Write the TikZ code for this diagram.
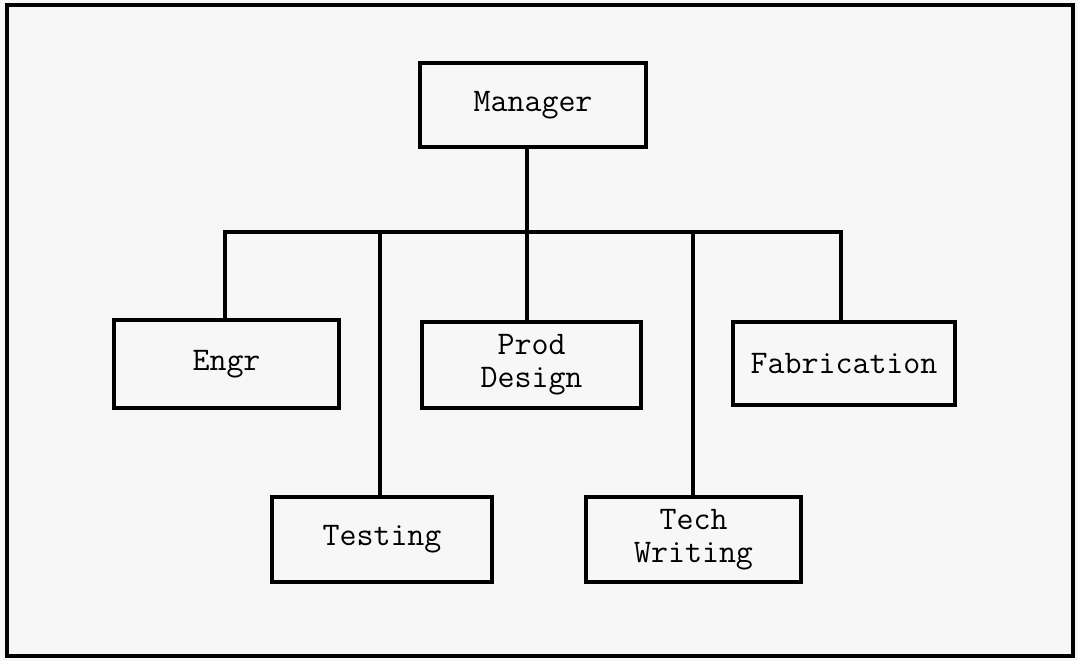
\documentclass[tikz,border=0pt]{standalone}
\usepackage{fontspec}
\begin{document}
\begin{tikzpicture}[x=1pt,y=-1pt,
  box/.style={draw=black,line width=4pt,fill=none,rectangle,inner sep=0pt,
    font=\fontsize{33}{33}\selectfont\ttfamily,align=center},
  conn/.style={draw=black,line width=3.4pt}]
\fill[black!3] (0,0) rectangle (1078,661);
\useasboundingbox (0,0) rectangle (1078,661);
\draw[line width=4pt] (7,5) rectangle (1073,656);
\node[box,minimum width=226pt,minimum height=84pt] (mgr) at (533,105) {Manager};
\node[box,minimum width=225pt,minimum height=88pt] (engr) at (226.5,364) {Engr};
\node[box,minimum width=219pt,minimum height=86pt] (pd) at (531.5,365) {Prod\\Design};
\node[box,minimum width=222pt,minimum height=83pt] (fab) at (844,363.5) {Fabrication};
\node[box,minimum width=220pt,minimum height=85pt] (test) at (382,539.5) {Testing};
\node[box,minimum width=215pt,minimum height=85pt] (tw) at (693.5,539.5) {Tech\\Writing};
\coordinate (trunk) at (527,232);
\coordinate (busL) at (225,232);
\coordinate (busR) at (841,232);
\coordinate (tx) at (380,232);
\coordinate (twx) at (693,232);
\draw[conn] (trunk |- mgr.south) -- (trunk |- pd.north);
\draw[conn,line cap=rect] (busL) -- (busR);
\draw[conn] (busL) -- (busL |- engr.north);
\draw[conn] (busR) -- (busR |- fab.north);
\draw[conn] (tx) -- (tx |- test.north);
\draw[conn] (twx) -- (twx |- tw.north);
\end{tikzpicture}
\end{document}
